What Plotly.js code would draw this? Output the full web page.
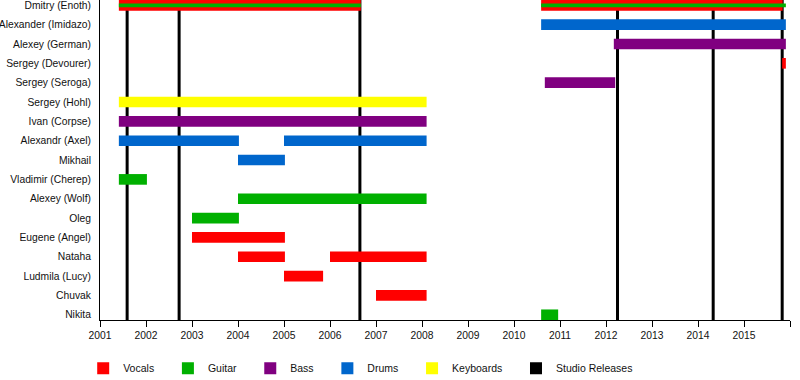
<!DOCTYPE html>
<html>
<head>
<meta charset="utf-8">
<script src="https://cdn.plot.ly/plotly-3.0.1.min.js"></script>
<style>html,body{margin:0;padding:0;background:#fff}#chart{width:800px;height:380px}</style>
</head>
<body>
<div id="chart"></div>
<script>
// Members (top to bottom)
const members = ["Dmitry (Enoth)", "Alexander (Imidazo)", "Alexey (German)", "Sergey (Devourer)", "Sergey (Seroga)", "Sergey (Hohl)", "Ivan (Corpse)", "Alexandr (Axel)", "Mikhail", "Vladimir (Cherep)", "Alexey (Wolf)", "Oleg", "Eugene (Angel)", "Nataha", "Ludmila (Lucy)", "Chuvak", "Nikita"];

// Role periods: member, start year, end year
const vocalsMember = ["Dmitry (Enoth)", "Dmitry (Enoth)", "Sergey (Devourer)", "Eugene (Angel)", "Nataha", "Nataha", "Ludmila (Lucy)", "Chuvak"];
const vocalsStart  = [2001.41, 2010.59, 2015.83, 2003.0, 2004.0, 2006.0, 2005.0, 2007.0];
const vocalsEnd    = [2006.67, 2015.84, 2015.91, 2005.02, 2005.02, 2008.1, 2005.85, 2008.1];

const guitarMember = ["Dmitry (Enoth)", "Dmitry (Enoth)", "Vladimir (Cherep)", "Alexey (Wolf)", "Oleg", "Nikita"];
const guitarStart  = [2001.41, 2010.59, 2001.41, 2004.0, 2003.0, 2010.59];
const guitarEnd    = [2006.67, 2015.91, 2002.02, 2008.1, 2004.02, 2010.96];

const bassMember = ["Alexey (German)", "Sergey (Seroga)", "Ivan (Corpse)"];
const bassStart  = [2012.17, 2010.67, 2001.41];
const bassEnd    = [2015.91, 2012.2, 2008.1];

const drumsMember = ["Alexander (Imidazo)", "Alexandr (Axel)", "Alexandr (Axel)", "Mikhail"];
const drumsStart  = [2010.59, 2001.41, 2005.0, 2004.0];
const drumsEnd    = [2015.91, 2004.02, 2008.1, 2005.02];

const keysMember = ["Sergey (Hohl)"];
const keysStart  = [2001.41];
const keysEnd    = [2008.1];

const studioReleases = [2001.59, 2002.72, 2006.65, 2012.25, 2014.33, 2015.83];

const yearTicks = [2001, 2002, 2003, 2004, 2005, 2006, 2007, 2008, 2009, 2010, 2011, 2012, 2013, 2014, 2015, 2016];
const yearLabels = ["2001", "2002", "2003", "2004", "2005", "2006", "2007", "2008", "2009", "2010", "2011", "2012", "2013", "2014", "2015", ""];

const NB = "\u00a0\u00a0\u00a0";
function roleTrace(name, color, mem, st, en, narrowFor) {
  return {
    type: 'bar', orientation: 'h', name: name + NB,
    y: mem, base: st, x: en.map((e, i) => e - st[i]),
    width: mem.map(m => (narrowFor && m === narrowFor) ? 0.19 : 0.55),
    marker: {color: color, line: {width: 0}},
    hoverinfo: 'skip'
  };
}

const traces = [
  roleTrace('Vocals', '#ff0000', vocalsMember, vocalsStart, vocalsEnd),
  roleTrace('Guitar', '#00b000', guitarMember, guitarStart, guitarEnd, members[0]),
  roleTrace('Bass', '#800080', bassMember, bassStart, bassEnd),
  roleTrace('Drums', '#0066cc', drumsMember, drumsStart, drumsEnd),
  roleTrace('Keyboards', '#ffff00', keysMember, keysStart, keysEnd),
  {type: 'bar', orientation: 'h', name: 'Studio Releases', y: [null], x: [null], marker: {color: '#000000'}, hoverinfo: 'skip'}
];

const shapes = studioReleases.map(r => ({
  type: 'line', layer: 'below', xref: 'x', yref: 'paper', x0: r, x1: r, y0: 0, y1: 1,
  line: {color: '#000000', width: 3}
}));

const layout = {
  width: 800, height: 380,
  margin: {l: 100, r: 10, t: 0, b: 60},
  paper_bgcolor: '#ffffff', plot_bgcolor: '#ffffff',
  font: {family: 'Liberation Sans, Arial, sans-serif', size: 10.3, color: '#111111'},
  barmode: 'overlay',
  showlegend: true,
  legend: {orientation: 'h', xref: 'container', x: 0.104, xanchor: 'left',
           yref: 'container', y: 0.069, yanchor: 'top',
           font: {size: 10.5, color: '#111111'}, traceorder: 'normal'},
  xaxis: {range: [2001, 2016], tickvals: yearTicks, ticktext: yearLabels,
          ticks: 'outside', ticklen: 6, tickcolor: '#000', tickwidth: 1,
          showline: true, linecolor: '#000', linewidth: 1, showgrid: false, zeroline: false,
          automargin: false, fixedrange: true},
  yaxis: {type: 'category', categoryorder: 'array', categoryarray: members,
          range: [16.27, -0.275], showline: true, linecolor: '#000', linewidth: 1,
          ticks: '', showgrid: false, zeroline: false, ticklabelstandoff: 6,
          automargin: false, fixedrange: true},
  shapes: shapes
};

Plotly.newPlot('chart', traces, layout, {displayModeBar: false, staticPlot: true});
</script>
</body>
</html>
